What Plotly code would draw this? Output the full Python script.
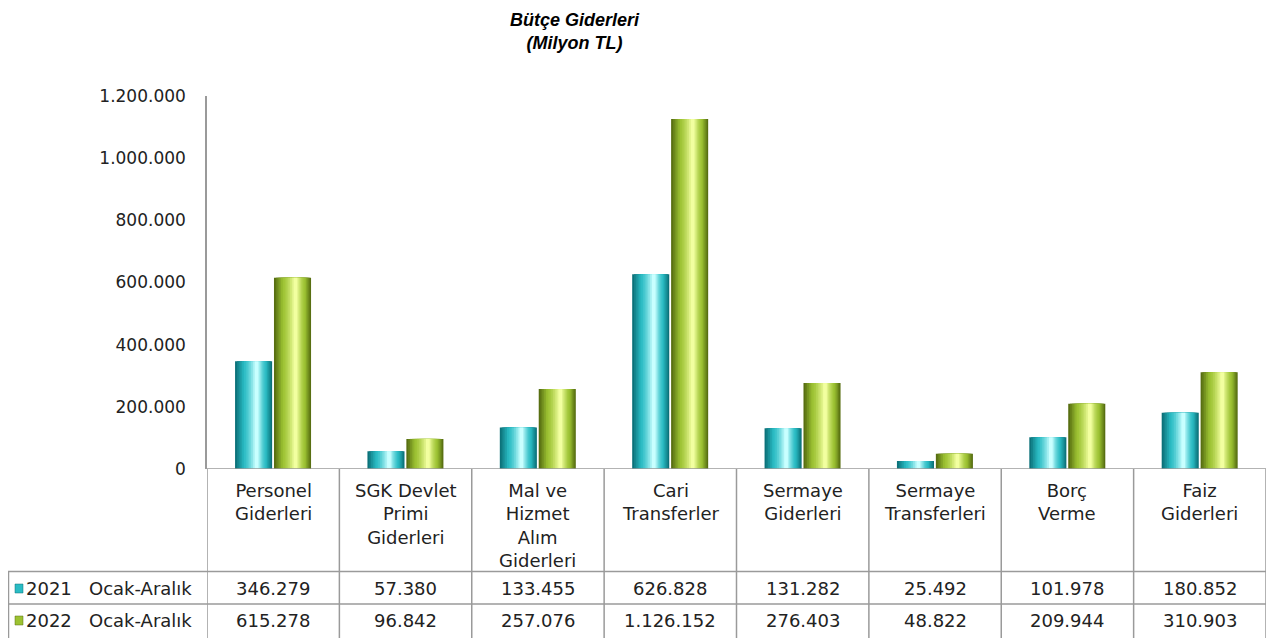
"""Butce giderleri: silindirik sutunlar + altta veri tablosu."""

import plotly.graph_objects as go

kategoriler = ['Personel<br>Giderleri', 'SGK Devlet<br>Primi<br>Giderleri',
               'Mal ve<br>Hizmet<br>Alım<br>Giderleri', 'Cari<br>Transferler',
               'Sermaye<br>Giderleri', 'Sermaye<br>Transferleri',
               'Borç<br>Verme', 'Faiz<br>Giderleri']
seri_2021 = [346279, 57380, 133455, 626828, 131282, 25492, 101978, 180852]
seri_2022 = [615278, 96842, 257076, 1126152, 276403, 48822, 209944, 310903]
seri_adlari = ['2021\u00a0\u00a0\u00a0Ocak-Aralık', '2022\u00a0\u00a0\u00a0Ocak-Aralık']
y_tikler = [0, 200000, 400000, 600000, 800000, 1000000, 1200000]

FONT = 'DejaVu Sans'
GRI = '#9a9a9a'
YAZI = '#222222'

# renk paletleri: (kenar, govde, parlak)
PALET_2021 = ('#0c727a', '#2abcc4', '#c8ffff')
PALET_2022 = ('#586f12', '#9cc232', '#f2ffa0')


def hex_rgb(h):
    h = h.lstrip('#')
    return [int(h[i:i + 2], 16) for i in (0, 2, 4)]


def karistir(a, b, t):
    ra, rb = hex_rgb(a), hex_rgb(b)
    return 'rgb({},{},{})'.format(*[round(x + (y - x) * t) for x, y in zip(ra, rb)])


def katman_rengi(palet, s):
    kenar, govde, parlak = palet
    if s < 0.4:
        return karistir(kenar, govde, s / 0.4)
    return karistir(govde, parlak, ((s - 0.4) / 0.6) ** 1.4)


def silindir(fig, x, y, ad, palet, ofset, genislik, n=12, parlak_yer=0.58):
    for k in range(n):
        s = k / (n - 1)
        sol = s * (parlak_yer - 0.05)
        sag = 1 - s * (1 - parlak_yer - 0.05)
        fig.add_trace(go.Bar(
            x=list(range(len(x))), y=y, name=ad,
            offset=ofset + sol * genislik, width=(sag - sol) * genislik,
            marker=dict(color=katman_rengi(palet, s), line=dict(width=0)),
            showlegend=False,
            hoverinfo='skip' if k else None,
            customdata=[c.replace('<br>', ' ') for c in x],
            hovertemplate=None if k else ad.replace('\u00a0', ' ') + '<br>%{customdata}: %{y:,}<extra></extra>',
        ))


fig = go.Figure()
GEN = 0.28
silindir(fig, kategoriler, seri_2021, seri_adlari[0], PALET_2021, -0.288, GEN)
silindir(fig, kategoriler, seri_2022, seri_adlari[1], PALET_2022, 0.006, GEN)

# sayfa pikseli -> paper (cizim alani: y 96..469, x 207..1266); sayfa govdesi 8px kenar boslugu
KB = 8
UST, ALT, SOL, SAG = 96, 469, 207, 1266


def py(p):
    return (ALT - p) / (ALT - UST)


def px(p):
    return (p - SOL) / (SAG - SOL)


n = len(kategoriler)
sekiller = []
# tablo dikey cizgileri
for i in range(n + 1):
    sekiller.append(dict(type='line', xref='x', yref='paper', x0=i - 0.5, x1=i - 0.5,
                         y0=0, y1=py(640), line=dict(color=GRI, width=1.5)))
# satir cizgileri
for yy in (571.5, 604):
    sekiller.append(dict(type='line', xref='paper', yref='paper', x0=px(8), x1=1,
                         y0=py(yy), y1=py(yy), line=dict(color=GRI, width=1.5)))
sekiller.append(dict(type='line', xref='paper', yref='paper', x0=px(8.5), x1=px(8.5),
                     y0=py(571.5), y1=py(640), line=dict(color=GRI, width=1.5)))
# lejant kareleri
for palet, yc in ((PALET_2021, 588), (PALET_2022, 620)):
    sekiller.append(dict(type='rect', xref='paper', yref='paper', x0=px(15), x1=px(23),
                         y0=py(yc + 5), y1=py(yc - 4),
                         fillcolor=palet[1], line=dict(color=palet[0], width=0.5)))

notlar = []
for i, k in enumerate(kategoriler):
    notlar.append(dict(x=i, y=py(478), xref='x', yref='paper', text=k, showarrow=False,
                       xanchor='center', yanchor='top', align='center',
                       font=dict(family=FONT, size=18, color=YAZI)))
    for yc, seri in ((588, seri_2021), (620, seri_2022)):
        notlar.append(dict(x=i, y=py(yc), xref='x', yref='paper',
                           text=f'{seri[i]:,}'.replace(',', '.'), showarrow=False,
                           xanchor='center', yanchor='middle',
                           font=dict(family=FONT, size=18, color=YAZI)))
for ad, yc in zip(seri_adlari, (588, 620)):
    notlar.append(dict(x=px(24), y=py(yc), xref='paper', yref='paper', text=ad,
                       showarrow=False, xanchor='left', yanchor='middle',
                       font=dict(family=FONT, size=18, color=YAZI)))
notlar.append(dict(x=px(575), y=py(31), xref='paper', yref='paper',
                   text='<b><i>Bütçe Giderleri<br>(Milyon TL)</i></b>', showarrow=False,
                   xanchor='center', yanchor='middle', align='center',
                   font=dict(family='Liberation Sans', size=18, color='#000000')))

fig.update_layout(
    width=1281 - KB, height=638 - KB,
    margin=dict(l=SOL - KB, r=1281 - SAG, t=UST - KB, b=638 - ALT),
    paper_bgcolor='white', plot_bgcolor='white',
    barmode='overlay', separators=',.',
    showlegend=False,
    shapes=sekiller, annotations=notlar,
    xaxis=dict(range=[-0.5, n - 0.5], showticklabels=False, showgrid=False,
               zeroline=False, showline=False, ticks=''),
    yaxis=dict(range=[0, 1200000], tickvals=y_tikler, tickformat=',d',
               showgrid=False, zeroline=False, showline=True, linecolor=GRI, linewidth=1.5,
               ticks='', ticklabelstandoff=16,
               tickfont=dict(family=FONT, size=17, color=YAZI)),
)
fig.add_hline(y=0, line=dict(color=GRI, width=1.5))

fig.write_html('out.html')
